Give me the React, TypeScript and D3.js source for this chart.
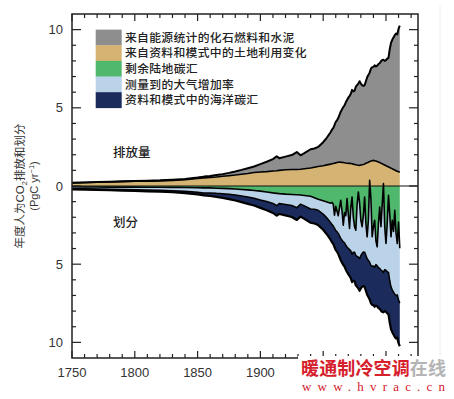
import React from "react";
import * as d3 from "d3";

// years of the budget record (coarse before 1956, annual after)
const years = [
  1750, 1760, 1770, 1780, 1790, 1800, 1810, 1820, 1830, 1840, 1850,
  1855, 1860, 1865, 1870, 1875, 1880, 1885, 1890, 1895, 1900, 1905, 1910,
  1913, 1915, 1920, 1925, 1929, 1932, 1935, 1940, 1943, 1946, 1950, 1953,
  1956, 1957, 1958, 1959, 1960, 1961, 1962, 1963, 1964, 1965,
  1966, 1967, 1968, 1969, 1970, 1971, 1972, 1973, 1974, 1975,
  1976, 1977, 1978, 1979, 1980, 1981, 1982, 1983, 1984, 1985,
  1986, 1987, 1988, 1989, 1990, 1991, 1992, 1993, 1994, 1995,
  1996, 1997, 1998, 1999, 2000, 2001, 2002, 2003, 2004, 2005,
  2006, 2007, 2008, 2009, 2010, 2011,
];

// PgC/yr, emissions
const fossil = [
  0.01, 0.01, 0.01, 0.01, 0.02, 0.02, 0.03, 0.03, 0.04, 0.05, 0.06,
  0.08, 0.09, 0.12, 0.14, 0.18, 0.23, 0.28, 0.34, 0.39, 0.5, 0.63, 0.76,
  0.92, 0.78, 0.84, 0.92, 1.11, 0.89, 1.0, 1.2, 1.2, 1.25, 1.5, 1.75,
  2.05, 2.18, 2.26, 2.44, 2.62, 2.7, 2.83, 3.02, 3.23, 3.39,
  3.55, 3.66, 3.88, 4.04, 4.2, 4.3, 4.46, 4.73, 4.65, 4.72,
  4.99, 5.11, 5.22, 5.38, 5.21, 5.09, 5.02, 5.04, 5.25, 5.47,
  5.58, 5.69, 5.9, 5.98, 5.98, 6.1, 6.05, 6.13, 6.26, 6.35,
  6.52, 6.63, 6.7, 6.66, 6.75, 6.89, 6.98, 7.57, 8.01, 8.25,
  8.44, 8.63, 8.77, 8.76, 9.14, 9.37,
];
const landUse = [
  0.2, 0.22, 0.24, 0.26, 0.28, 0.3, 0.31, 0.33, 0.36, 0.4, 0.48,
  0.52, 0.55, 0.58, 0.62, 0.66, 0.7, 0.75, 0.8, 0.86, 0.9, 0.92, 0.96,
  0.98, 1.0, 1.04, 1.06, 1.06, 1.07, 1.1, 1.15, 1.2, 1.25, 1.3, 1.35,
  1.4, 1.42, 1.44, 1.46, 1.48, 1.5, 1.52, 1.53, 1.52, 1.51,
  1.5, 1.49, 1.47, 1.46, 1.45, 1.45, 1.44, 1.42, 1.4, 1.38,
  1.36, 1.34, 1.33, 1.32, 1.34, 1.36, 1.38, 1.41, 1.45, 1.48,
  1.52, 1.56, 1.6, 1.62, 1.64, 1.62, 1.6, 1.57, 1.54, 1.5,
  1.46, 1.42, 1.38, 1.34, 1.3, 1.26, 1.22, 1.18, 1.14, 1.1,
  1.06, 1.02, 0.98, 0.94, 0.91, 0.88,
];
// PgC/yr, sinks (the atmospheric growth closes the budget)
const landSink = [
  0.05, 0.06, 0.06, 0.07, 0.07, 0.07, 0.08, 0.08, 0.09, 0.1, 0.11,
  0.12, 0.12, 0.14, 0.15, 0.17, 0.19, 0.22, 0.25, 0.29, 0.33, 0.38, 0.44,
  0.47, 0.49, 0.52, 0.54, 0.56, 0.58, 0.61, 0.66, 0.75, 0.85, 0.95, 1.02,
  1.1, 1.05, 1.15, 1.87, 1.3, 1.6, 1.9, 1.4, 0.91, 1.6,
  2.51, 1.7, 1.9, 0.81, 1.8, 2.72, 1.4, 0.7, 2.0, 2.6,
  2.83, 1.2, 0.38, 1.1, 2.19, 2.6, 1.9, 0.7, 2.4, 3.25,
  2.2, -0.36, 0.8, 3.25, 2.6, 2.19, 3.5, 3.89, 2.4, 1.34,
  2.6, 1.2, -0.15, 2.6, 3.68, 2.4, 0.59, 1.8, 3.25, 2.2,
  2.9, 1.55, 3.0, 3.68, 2.3, 3.98,
];
const oceanSink = [
  0.05, 0.05, 0.06, 0.06, 0.07, 0.08, 0.08, 0.09, 0.1, 0.11, 0.14,
  0.16, 0.2, 0.23, 0.27, 0.31, 0.35, 0.39, 0.43, 0.47, 0.51, 0.56, 0.61,
  0.64, 0.66, 0.7, 0.74, 0.78, 0.8, 0.83, 0.88, 0.91, 0.95, 1.0, 1.05,
  1.1, 1.13, 1.16, 1.2, 1.25, 1.28, 1.32, 1.36, 1.4, 1.44,
  1.48, 1.52, 1.56, 1.6, 1.65, 1.7, 1.74, 1.78, 1.82, 1.86,
  1.9, 1.95, 2.0, 2.05, 2.1, 2.14, 2.18, 2.22, 2.26, 2.3,
  2.34, 2.38, 2.42, 2.46, 2.5, 2.52, 2.62, 2.6, 2.57, 2.58,
  2.6, 2.62, 2.55, 2.65, 2.66, 2.67, 2.68, 2.69, 2.7, 2.71,
  2.72, 2.72, 2.73, 2.74, 2.75, 2.76,
];

const legendLabels = [
  "来自能源统计的化石燃料和水泥",
  "来自资料和模式中的土地利用变化",
  "剩余陆地碳汇",
  "测量到的大气增加率",
  "资料和模式中的海洋碳汇",
];
const colors = ["#8e8e8e", "#d5b473", "#4fb86c", "#bad3e8", "#1b2b5c"];
// 1950 and 2000 sit under the site watermark in the source image
const xTickLabels = [1750, 1800, 1850, 1900];
const yTickLabels = [10, 5, 0, -5, -10];

const W = 454;
const H = 399;
const left = 72, right = 418, top = 14, bottom = 358;
const latin = "'Liberation Sans', Arial, sans-serif";
const cjk = "'Noto Sans CJK SC', sans-serif";

export default function App() {
  const x = d3.scaleLinear().domain([1750, 2025.5]).range([left, right]);
  const y = d3.scaleLinear().domain([-11, 11]).range([bottom, top]);

  const rows = years.map((yr, i) => {
    const total = fossil[i] + landUse[i];
    const atm = total - landSink[i] - oceanSink[i];
    return { yr, luc: landUse[i], total, g: landSink[i], ga: landSink[i] + atm };
  });

  const band = (lo: (d: any) => number, hi: (d: any) => number) =>
    d3.area<any>().x(d => x(d.yr)).y0(d => y(lo(d))).y1(d => y(hi(d)))(rows) || "";
  const edge = (f: (d: any) => number) =>
    d3.line<any>().x(d => x(d.yr)).y(d => y(f(d)))(rows) || "";

  const xMinor = d3.range(1750, 2021, 10);
  const yMinor = d3.range(-10, 11, 1);
  const rowH = y(0) - y(1);

  return (
    <svg width={W} height={H} style={{ position: "absolute", left: 0, top: 0, background: "#fff" }}>
      <line x1={440} x2={440} y1={6} y2={394} stroke="#ececec" strokeWidth={1} />

      <path d={band(d => d.luc, d => d.total)} fill={colors[0]} />
      <path d={band(() => 0, d => d.luc)} fill={colors[1]} />
      <path d={band(() => 0, d => -d.g)} fill={colors[2]} />
      <path d={band(d => -d.g, d => -d.ga)} fill={colors[3]} />
      <path d={band(d => -d.ga, d => -d.total)} fill={colors[4]} />

      <path d={edge(d => d.total)} fill="none" stroke="#000" strokeWidth={2} strokeLinejoin="round" />
      <path d={edge(d => d.luc)} fill="none" stroke="#000" strokeWidth={1.6} strokeLinejoin="round" />
      <path d={edge(d => -d.ga)} fill="none" stroke="#000" strokeWidth={1.5} strokeLinejoin="round" />
      <path d={edge(d => -d.g)} fill="none" stroke="#000" strokeWidth={1.6} strokeLinejoin="round" />
      <path d={edge(d => -d.total)} fill="none" stroke="#000" strokeWidth={2.2} strokeLinejoin="round" />

      <line x1={left} x2={right} y1={y(0)} y2={y(0)} stroke="#111" strokeWidth={1} />

      {/* ticks on all four sides, pointing inward */}
      {xMinor.map(t => {
        const len = t % 50 === 0 ? 7 : 4;
        return (
          <g key={"xt" + t} stroke="#222" strokeWidth={1.2}>
            <line x1={x(t)} x2={x(t)} y1={bottom} y2={bottom - len} />
            <line x1={x(t)} x2={x(t)} y1={top} y2={top + len} />
          </g>
        );
      })}
      {yMinor.map(t => {
        const len = t % 5 === 0 ? 9 : 4;
        return (
          <g key={"yt" + t} stroke="#222" strokeWidth={1.2}>
            <line x1={left} x2={left + len} y1={y(t)} y2={y(t)} />
            <line x1={right} x2={right - len} y1={y(t)} y2={y(t)} />
          </g>
        );
      })}
      <rect x={left} y={top} width={right - left} height={bottom - top} fill="none" stroke="#222" strokeWidth={1.5} />

      {yTickLabels.map(t => (
        <text key={"yl" + t} x={63} y={y(t) + 4.5} textAnchor="end" fontFamily={latin} fontSize={13} fill="#333">
          {Math.abs(t)}
        </text>
      ))}
      {xTickLabels.map(t => (
        <text key={"xl" + t} x={x(t)} y={377} textAnchor="middle" fontFamily={latin} fontSize={13} fill="#333">
          {t}
        </text>
      ))}

      <g transform="translate(24,186) rotate(-90)" fill="#333" fontSize={11.5} textAnchor="middle">
        <text x={0} y={0} fontFamily={cjk}>
          年度人为<tspan fontFamily={latin}>CO</tspan>
          <tspan fontFamily={latin} fontSize={7.5} dy={2.5}>2</tspan>
          <tspan dy={-2.5}>排放和划分</tspan>
        </text>
        <text x={0} y={14} fontFamily={latin} fontSize={11}>
          (PgC yr<tspan fontSize={7.5} dy={-4}>−1</tspan><tspan dy={4}>)</tspan>
        </text>
      </g>

      {legendLabels.map((lab, i) => {
        const y0 = y(10) + i * rowH;
        return (
          <g key={lab}>
            <rect x={95.7} y={y0} width={26} height={rowH + 0.3} fill={colors[i]} />
            <text x={125} y={y0 + rowH / 2 + 4.2} fontFamily={cjk} fontSize={11.8} fontWeight={500} fill="#222"
              textLength={lab.length * 12.1} lengthAdjust="spacing">
              {lab}
            </text>
          </g>
        );
      })}

      <text x={113} y={157} fontFamily={cjk} fontSize={12.5} fontWeight={500} fill="#222">排放量</text>
      <text x={113} y={227} fontFamily={cjk} fontSize={12.5} fontWeight={500} fill="#222">划分</text>

      {/* site watermark over the lower right corner */}
      <rect x={298} y={356} width={156} height={43} fill="#fff" />
      <text x={301} y={375} fontFamily={cjk} fontSize={18} fontWeight={700} fill="#d6202c" textLength={145} lengthAdjust="spacing">
        暖通制冷空调<tspan fill="#b4b4b4">在线</tspan>
      </text>
      <text x={302} y={391} fontFamily="'Liberation Serif', serif" fontSize={13} fill="#d6202c" textLength={143} lengthAdjust="spacing">
        www.hvrac.cn
      </text>
    </svg>
  );
}
